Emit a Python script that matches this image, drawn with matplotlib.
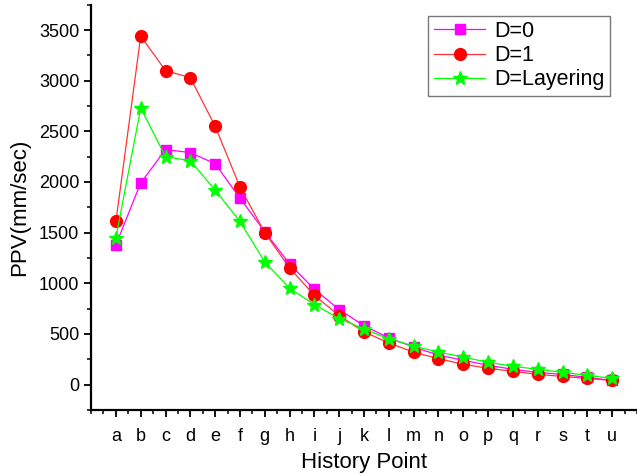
import matplotlib
matplotlib.use("Agg")
import matplotlib.pyplot as plt
from matplotlib.ticker import MultipleLocator

plt.rcParams['font.family'] = ['Liberation Sans', 'DejaVu Sans']

points = list("abcdefghijklmnopqrstu")
d0 = [1380, 1990, 2320, 2290, 2180, 1840, 1510, 1190, 940, 740, 580,
      460, 370, 290, 240, 190, 150, 120, 100, 70, 40]
d1 = [1610, 3440, 3100, 3030, 2550, 1950, 1500, 1150, 880, 680, 520,
      410, 320, 255, 200, 160, 130, 100, 80, 60, 40]
dlay = [1450, 2730, 2250, 2210, 1920, 1610, 1210, 950, 790, 650, 550,
        450, 380, 320, 270, 220, 180, 150, 120, 90, 60]

fig = plt.figure(figsize=(6.37, 4.76), dpi=100)
ax = fig.add_axes([0.143, 0.139, 0.857, 0.851])

x = range(len(points))
ax.plot(x, d0, '-s', color='#ff00ff', lw=0.9, ms=7.5, label='D=0')
ax.plot(x, d1, '-o', color='#ff3333', mfc='#ff0000', mec='#ff0000',
        lw=0.9, ms=8.5, label='D=1')
ax.plot(x, dlay, '-*', color='#00ff00', lw=0.9, ms=10, label='D=Layering')

ax.set_xlim(-1, 21)
ax.set_ylim(-250, 3750)
ax.set_xticks(list(x))
ax.set_xticklabels(points)
ax.xaxis.set_minor_locator(MultipleLocator(0.5))
ax.yaxis.set_major_locator(MultipleLocator(500))
ax.yaxis.set_minor_locator(MultipleLocator(250))

for s in ['top', 'right']:
    ax.spines[s].set_visible(False)
for s in ['left', 'bottom']:
    ax.spines[s].set_linewidth(1.6)
ax.tick_params(which='major', length=5, width=1.3, labelsize=13)
ax.tick_params(which='minor', length=3, width=1.1)
ax.tick_params(axis='x', pad=8)

ax.set_xlabel('History Point', fontsize=16, labelpad=5)
ax.set_ylabel('PPV(mm/sec)', fontsize=16, labelpad=6)

leg = ax.legend(loc='upper right', bbox_to_anchor=(0.97, 1.0), fontsize=15.5,
                fancybox=False, edgecolor='#555555', handlelength=2.4,
                borderpad=0.25, labelspacing=0.15, handletextpad=0.4)
leg.get_frame().set_linewidth(1.0)

fig.savefig('out.png', dpi=100)
